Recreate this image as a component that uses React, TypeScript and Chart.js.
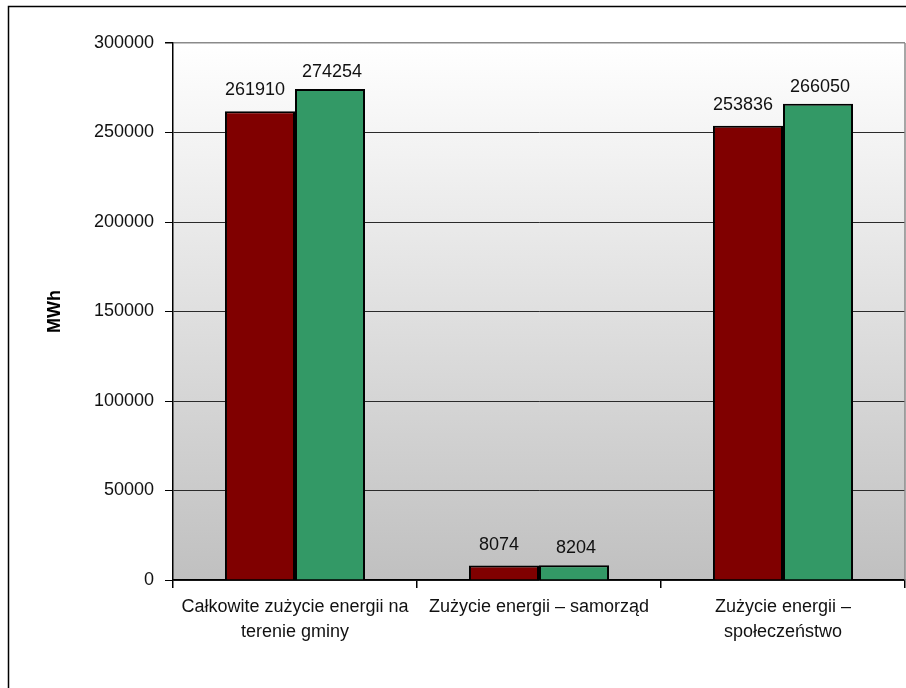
import React, { useEffect, useRef } from "react";
import { Chart, registerables } from "chart.js";

Chart.register(...registerables);

const categories: (string | string[])[] = [
  ["Całkowite zużycie energii na", "terenie gminy"],
  "Zużycie energii – samorząd",
  ["Zużycie energii –", "społeczeństwo"],
];
const seriesA = [261910, 8074, 253836];
const seriesB = [274254, 8204, 266050];
const yTicks = [0, 50000, 100000, 150000, 200000, 250000, 300000];
const yTitle = "MWh";

const FONT = "'Liberation Sans', Arial, sans-serif";
const labelStyle = [
  { dx: -5, dy: 21 },
  { dx: 2, dy: 17 },
];

const decorPlugin = {
  id: "decor",
  beforeDraw(chart: any) {
    const { ctx, chartArea } = chart;
    const { left, top, right, bottom } = chartArea;
    ctx.save();
    ctx.fillStyle = "#fff";
    ctx.fillRect(0, 0, chart.width, chart.height);
    ctx.strokeStyle = "#000";
    ctx.lineWidth = 1.5;
    ctx.strokeRect(8.5, 6.5, chart.width + 50, chart.height + 50);
    const g = ctx.createLinearGradient(0, top, 0, bottom);
    g.addColorStop(0, "#ffffff");
    g.addColorStop(1, "#c0c0c0");
    ctx.fillStyle = g;
    ctx.fillRect(left, top, right - left, bottom - top);
    ctx.restore();
  },
  afterDraw(chart: any) {
    const { ctx, chartArea } = chart;
    ctx.save();
    ctx.strokeStyle = "#8a8a8a";
    ctx.lineWidth = 1.5;
    ctx.beginPath();
    ctx.moveTo(chartArea.right, chartArea.top);
    ctx.lineTo(chartArea.right, chartArea.bottom);
    ctx.stroke();
    ctx.fillStyle = "#111";
    ctx.font = `18px ${FONT}`;
    ctx.textAlign = "center";
    ctx.textBaseline = "middle";
    chart.data.datasets.forEach((ds: any, di: number) => {
      const meta = chart.getDatasetMeta(di);
      const st = labelStyle[di] || { dx: 0, dy: 18 };
      meta.data.forEach((el: any, i: number) => {
        ctx.fillText(String(ds.data[i]), el.x + st.dx, el.y - st.dy);
      });
    });
    ctx.restore();
  },
};

export default function App() {
  const ref = useRef<HTMLCanvasElement | null>(null);
  useEffect(() => {
    document.body.style.margin = "0";
    if (!ref.current) return;
    const chart = new Chart(ref.current, {
      type: "bar",
      data: {
        labels: categories as any,
        datasets: [
          {
            label: "Seria 1",
            data: seriesA,
            backgroundColor: "#800000",
            borderColor: "#000",
            borderWidth: 2,
            categoryPercentage: 0.574,
            barPercentage: 1,
          },
          {
            label: "Seria 2",
            data: seriesB,
            backgroundColor: "#339966",
            borderColor: "#000",
            borderWidth: 2,
            categoryPercentage: 0.574,
            barPercentage: 1,
          },
        ],
      },
      options: {
        animation: false,
        responsive: false,
        devicePixelRatio: 1,
        layout: { padding: { left: 0, top: 43, right: 1, bottom: 0 } },
        plugins: {
          legend: { display: false },
          tooltip: { enabled: false },
        },
        scales: {
          x: {
            offset: true,
            grid: {
              offset: true,
              drawOnChartArea: false,
              drawTicks: true,
              tickLength: 8,
              tickColor: "#000",
              lineWidth: 1.5,
            },
            border: { display: true, color: "#000", width: 1.5 },
            ticks: {
              color: "#111",
              padding: 6,
              maxRotation: 0,
              autoSkip: false,
              font: { family: FONT, size: 18, lineHeight: 1.4 },
            },
            afterFit(scale: any) {
              scale.height = 108;
            },
          },
          y: {
            min: 0,
            max: 300000,
            afterBuildTicks(scale: any) {
              scale.ticks = yTicks.map((v) => ({ value: v }));
            },
            grid: {
              color: (c: any) =>
                c.tick && c.tick.value === 300000 ? "#8a8a8a" : "#2a2a2a",
              lineWidth: (c: any) => (c.tick && c.tick.value === 300000 ? 1.5 : 1),
              tickColor: "#000",
              tickLength: 8,
              drawTicks: true,
            },
            border: { display: true, color: "#000", width: 1.5 },
            ticks: {
              color: "#111",
              padding: 11,
              font: { family: FONT, size: 18 },
              callback: (v: any) => String(v),
            },
            title: {
              display: true,
              text: yTitle,
              color: "#000",
              font: { family: FONT, size: 18, weight: "bold" },
              padding: { top: 44, bottom: 0 },
            },
            afterFit(scale: any) {
              scale.width = 173;
            },
          },
        },
      },
      plugins: [decorPlugin],
    });
    return () => chart.destroy();
  }, []);
  return (
    <div style={{ width: 906, height: 688 }}>
      <canvas ref={ref} width={906} height={688} style={{ display: "block" }} />
    </div>
  );
}
